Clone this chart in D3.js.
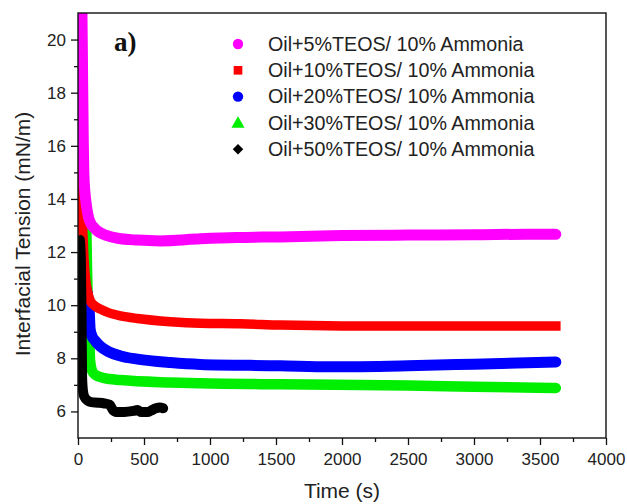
<!DOCTYPE html>
<html><head><meta charset="utf-8">
<script src="https://cdn.jsdelivr.net/npm/d3@7/dist/d3.min.js"></script>
<style>body{margin:0;background:#fff}svg{display:block}text{font-family:"Liberation Sans",Arial,sans-serif}</style>
</head><body><svg id="c" width="627" height="504"></svg>
<script>
const seriesNames = ["Oil+5%TEOS/ 10% Ammonia","Oil+10%TEOS/ 10% Ammonia","Oil+20%TEOS/ 10% Ammonia","Oil+30%TEOS/ 10% Ammonia","Oil+50%TEOS/ 10% Ammonia"];
const seriesColors = ["#ff00ff","#ff0000","#0000ff","#00ee00","#000000"];
const seriesSymbols = ["circle","square","circle","triangle","diamond"];

const t5  = [25,30,35,40,44,50,60,70,80,100,125,160,208,300,450,624,927,1200,1532,2000,2500,3000,3400,3620];
const v5  = [21.6,21.0,18.5,16.2,15.0,14.4,13.9,13.55,13.3,13.05,12.9,12.75,12.64,12.52,12.45,12.42,12.5,12.55,12.57,12.62,12.64,12.65,12.67,12.67];
const t10 = [15,25,34,42,50,62,78,95,120,170,230,322,450,700,927,1230,1532,2000,2500,3000,3620];
const v10 = [15.8,14.5,13.1,12.1,11.4,10.8,10.4,10.15,10.0,9.85,9.72,9.6,9.5,9.38,9.32,9.3,9.25,9.22,9.22,9.22,9.22];
const t20 = [62,75,85,92,105,132,170,230,322,450,700,927,1532,1911,2500,3000,3620];
const v20 = [10.6,10.3,9.8,9.1,8.85,8.65,8.45,8.25,8.09,7.97,7.84,7.77,7.72,7.68,7.72,7.78,7.86];
const t30 = [62,66,72,80,86,92,105,130,200,322,700,927,1532,2500,3000,3620];
const v30 = [13.2,12.0,10.5,9.4,8.6,7.9,7.55,7.38,7.25,7.18,7.09,7.06,7.02,6.98,6.93,6.88];
const t50 = [15,22,27,31,37,48,75,100,150,200,240,265,290,350,420,450,480,530,560,590,620,645];
const v50 = [12.45,11.6,9.5,7.3,6.8,6.55,6.4,6.35,6.33,6.3,6.25,6.05,5.98,5.98,6.02,6.05,5.98,5.98,6.05,6.12,6.15,6.12];

const xTicks = [0,500,1000,1500,2000,2500,3000,3500,4000];
const yTicks = [6,8,10,12,14,16,18,20];

const svg = d3.select("#c");
const L=78, R=606, T=13, B=438;
const x = d3.scaleLinear().domain([0,4000]).range([L,R]);
const y = d3.scaleLinear().domain([5,21]).range([B,T]);

svg.append("defs").append("clipPath").attr("id","clip").append("rect")
  .attr("x",L).attr("y",T).attr("width",R-L).attr("height",B-T);

const seriesData = [[t5,v5],[t10,v10],[t20,v20],[t30,v30],[t50,v50]];
const drawOrder = [3,2,1,0,4];
const widths = [11,9.5,11,10.5,10];
const line = d3.line().x(d=>x(d[0])).y(d=>y(d[1])).curve(d3.curveMonotoneX);
const g = svg.append("g").attr("clip-path","url(#clip)");
drawOrder.forEach(i=>{
  const s = seriesData[i];
  const pts = s[0].map((t,j)=>[t,s[1][j]]);
  g.append("path").attr("d",line(pts)).attr("fill","none")
   .attr("stroke",seriesColors[i]).attr("stroke-width",widths[i])
   .attr("stroke-linecap", seriesSymbols[i]==="square"?"square":"round")
   .attr("stroke-linejoin","round");
});

// axes
const xAxis = svg.append("g").attr("transform",`translate(0,${B})`)
  .call(d3.axisBottom(x).tickValues(xTicks).tickSize(7).tickPadding(8).tickFormat(d3.format("d")));
const xMinor = svg.append("g").attr("transform",`translate(0,${B})`)
  .call(d3.axisBottom(x).tickValues(d3.range(250,4000,500)).tickSize(4).tickFormat(""));
const yAxis = svg.append("g").attr("transform",`translate(${L},0)`)
  .call(d3.axisLeft(y).tickValues(yTicks).tickSize(7).tickPadding(5).tickFormat(d3.format("d")));
const yMinor = svg.append("g").attr("transform",`translate(${L},0)`)
  .call(d3.axisLeft(y).tickValues([7,9,11,13,15,17,19]).tickSize(4).tickFormat(""));
[xAxis,xMinor,yAxis,yMinor].forEach(a=>{
  a.select(".domain").remove();
  a.selectAll("line").attr("stroke","#111").attr("stroke-width",1.3);
  a.selectAll("text").attr("font-size",17).attr("fill","#222")
    .style("font-family",'"Liberation Sans",Arial,sans-serif');
});
svg.append("rect").attr("x",L).attr("y",T).attr("width",R-L).attr("height",B-T)
  .attr("fill","none").attr("stroke","#111").attr("stroke-width",1.4);

svg.append("text").attr("x",(L+R)/2).attr("y",498).attr("text-anchor","middle")
  .attr("font-size",21).attr("fill","#222").text("Time (s)");
svg.append("text").attr("transform",`translate(30,234) rotate(-90)`).attr("text-anchor","middle")
  .attr("font-size",21).attr("fill","#222").text("Interfacial Tension (mN/m)");
svg.append("text").attr("x",114).attr("y",51).attr("font-size",27).attr("font-weight","bold")
  .style("font-family",'"Liberation Serif","Times New Roman",serif').attr("fill","#111").text("a)");

// legend
const symMap = {circle:d3.symbolCircle,square:d3.symbolSquare,triangle:d3.symbolTriangle,diamond:d3.symbolSquare};
const sizes = {circle:85,square:75,triangle:75,diamond:55};
const leg = svg.append("g");
seriesNames.forEach((n,i)=>{
  const yy = 44 + i*26.3;
  const sym = seriesSymbols[i];
  leg.append("path").attr("transform",`translate(238,${yy + (sym==="triangle"?1:0)})${sym==="diamond"?" rotate(45)":""}`)
    .attr("d",d3.symbol().type(symMap[sym]).size(sizes[sym])())
    .attr("fill",seriesColors[i]);
  leg.append("text").attr("x",268).attr("y",yy+6.8).attr("font-size",19.7).attr("fill","#222").text(n);
});
</script></body></html>
